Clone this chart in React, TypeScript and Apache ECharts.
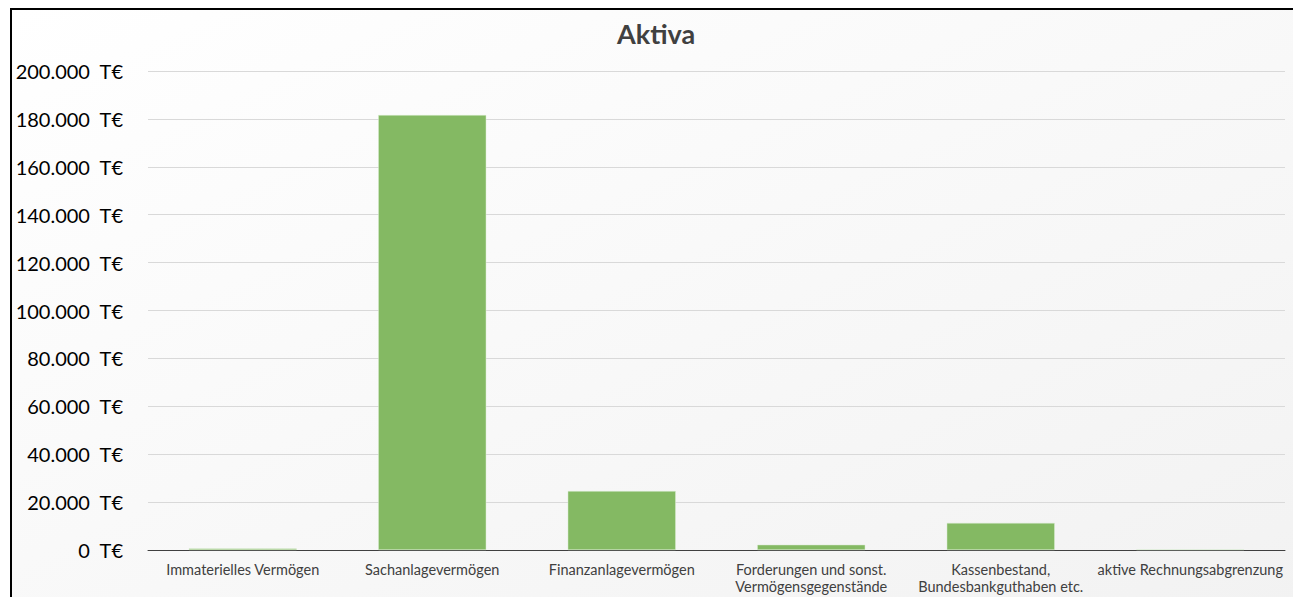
import React, { useEffect, useRef } from "react";
import * as echarts from "echarts";

const categories = [
  "Immaterielles Vermögen",
  "Sachanlagevermögen",
  "Finanzanlagevermögen",
  "Forderungen und sonst.\nVermögensgegenstände",
  "Kassenbestand,\nBundesbankguthaben etc.",
  "aktive Rechnungsabgrenzung",
];
const values = [600, 181600, 24600, 2200, 11300, 250];
const yMin = 0;
const yMax = 200000;
const yInterval = 20000;

const fmt = (v: number) =>
  String(v).replace(/\B(?=(\d{3})+(?!\d))/g, ".") + "  T€";

export default function App() {
  const ref = useRef<HTMLDivElement>(null);
  useEffect(() => {
    if (!ref.current) return;
    const chart = echarts.init(ref.current, undefined, { renderer: "svg" });
    chart.setOption({
      animation: false,
      backgroundColor: {
        type: "linear",
        x: 0,
        y: 0,
        x2: 1,
        y2: 1,
        colorStops: [
          { offset: 0, color: "#ffffff" },
          { offset: 1, color: "#f2f2f2" },
        ],
      },
      title: {
        text: "Aktiva",
        left: 600,
        top: 5,
        textStyle: {
          fontFamily: "Lato",
          fontSize: 27,
          fontWeight: "bold",
          color: "#404040",
        },
      },
      grid: { left: 136, right: 17, top: 61, bottom: 60, containLabel: false },
      xAxis: {
        type: "category",
        data: categories,
        axisTick: { show: false },
        axisLine: { lineStyle: { color: "#404040", width: 1 } },
        axisLabel: {
          interval: 0,
          margin: 11,
          fontFamily: "Lato",
          fontSize: 14.5,
          color: "#404040",
          lineHeight: 17,
        },
      },
      yAxis: {
        type: "value",
        min: yMin,
        max: yMax,
        interval: yInterval,
        axisLine: { show: false },
        axisTick: { show: false },
        splitLine: { lineStyle: { color: "#d9d9d9", width: 1 } },
        axisLabel: {
          formatter: fmt,
          margin: 25,
          fontFamily: "Lato",
          fontSize: 20,
          color: "#000000",
        },
      },
      series: [
        {
          type: "bar",
          data: values,
          barCategoryGap: "43%",
          itemStyle: { color: "#84b963", borderColor: "#d9ecd0", borderWidth: 0.5 },
        },
      ],
    });
    return () => chart.dispose();
  }, []);
  return (
    <div
      style={{
        position: "absolute",
        left: 10,
        top: 8,
        border: "2px solid #000",
        width: 1290,
        height: 600,
      }}
    >
      <div ref={ref} style={{ width: 1290, height: 600 }} />
    </div>
  );
}
